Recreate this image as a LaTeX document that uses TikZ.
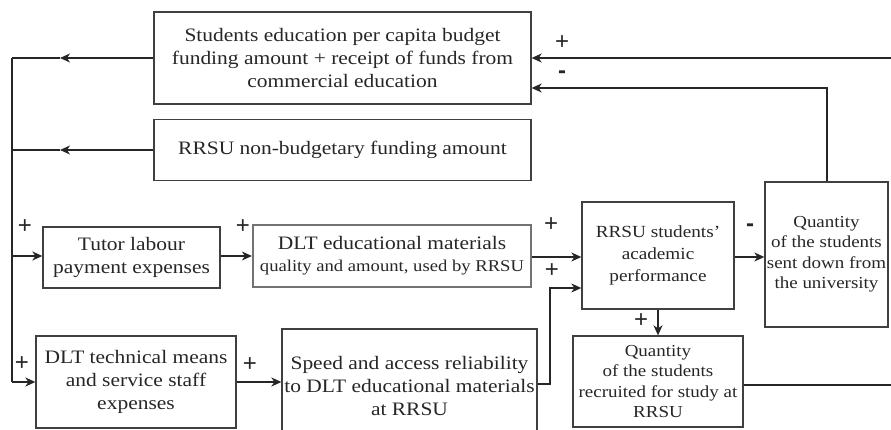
\documentclass[tikz,border=0pt]{standalone}
\usepackage{fontspec}
\setmainfont{Liberation Serif}[FakeStretch=1.13]
\newfontfamily\signfont{Liberation Sans}
\usetikzlibrary{arrows.meta}
\begin{document}
\begin{tikzpicture}[x=1pt,y=-1pt,
  box/.style={draw=black!75, line width=1.3pt, inner sep=0pt, align=center, text=black!85,
              font=\fontsize{19}{23}\selectfont},
  smallbox/.style={box, font=\fontsize{16.8}{20.5}\selectfont},
  conn/.style={line width=1.3pt, draw=black!85},
  arr/.style={conn, -{Stealth[length=10pt,width=9pt,inset=3pt]}},
  sign/.style={text=black!85, inner sep=0pt}]
\useasboundingbox (0,0) rectangle (891,430);

% nodes
\node[box, minimum width=377pt, minimum height=92pt] (A) at (342.5,58)
  {Students education per capita budget\\funding amount + receipt of funds from\\commercial education};
\node[box, minimum width=377pt, minimum height=61pt] (B) at (342.5,150)
  {RRSU non-budgetary funding amount};
\node[box, minimum width=177pt, minimum height=61pt] (tutor) at (131.5,257.5)
  {Tutor labour\\payment expenses};
\node[box, draw=black!55, line width=2.2pt,
      minimum width=278pt, minimum height=62pt, font=\fontsize{19}{22}\selectfont] (edu) at (392,256)
  {DLT educational materials\\\fontsize{16.5}{20}\selectfont quality and amount, used by RRSU};
\node[smallbox, minimum width=152pt, minimum height=107pt, font=\fontsize{17}{22}\selectfont] (perf) at (658,255.5)
  {RRSU students'\\academic\\performance};
\node[smallbox, minimum width=123pt, minimum height=145pt] (sent) at (826.5,254.5)
  {Quantity\\of the students\\sent down from\\the university};
\node[smallbox, minimum width=170pt, minimum height=91pt] (recr) at (658,381.5)
  {Quantity\\of the students\\recruited for study at\\RRSU};
\node[box, minimum width=200pt, minimum height=92pt] (tech) at (136,382)
  {DLT technical means\\and service staff\\expenses};
\node[box, minimum width=255pt, minimum height=114pt] (speed) at (409.5,386)
  {Speed and access reliability\\to DLT educational materials\\at RRSU};

% coordinates
\coordinate (ta) at (12,58);
\coordinate (tb) at (12,150);
\coordinate (ttut) at (12,256);
\coordinate (ttech) at (12,382);
\coordinate (ma) at (60,58);
\coordinate (mb) at (60,150);
\coordinate (rtop) at (891,58);
\coordinate (rbot) at (891,385);
\coordinate (sp1) at (550,384);
\coordinate (sp2) at (550,288);
\coordinate (sd1) at (827,88);

% connectors
\draw[conn] (ta) -- (ttech);
\draw[arr] (A.west |- ta) -- (ma);
\draw[conn] (ma) -- (ta);
\draw[arr] (B.west |- tb) -- (mb);
\draw[conn] (mb) -- (tb);
\draw[arr] (ttut) -- (tutor.west |- ttut);
\draw[arr] (ttech) -- (tech.west |- ttech);
\draw[arr] (tutor.east |- 0,256) -- (edu.west |- 0,256);
\draw[arr] (edu.east |- 0,257) -- (perf.west |- 0,257);
\draw[arr] (tech.east |- ttech) -- (speed.west |- ttech);
\draw[arr] (speed.east |- sp1) -- (sp1) -- (sp2) -- (perf.west |- sp2);
\draw[arr] (perf.east |- 0,257) -- (sent.west |- 0,257);
\draw[arr] (perf.south) -- (recr.north);
\draw[arr] (sent.north -| sd1) -- (sd1) -- (A.east |- sd1);
\draw[arr] (rtop) -- (A.east |- rtop);
\draw[conn] (recr.east |- rbot) -- (rbot);

% signs
\newcommand{\plussign}{{\signfont\fontsize{24}{24}\selectfont +}}
\newcommand{\minussign}{{\signfont\bfseries\fontsize{24}{24}\selectfont -}}
\node[sign] (s1) at (25,227) {\plussign};
\node[sign] (s2) at (22,364) {\plussign};
\node[sign] (s3) at (243,227) {\plussign};
\node[sign] (s4) at (250,365) {\plussign};
\node[sign] (s5) at (551,225) {\plussign};
\node[sign] (s6) at (552,271) {\plussign};
\node[sign] (s7) at (750,228) {\minussign};
\node[sign] (s8) at (641,321) {\plussign};
\node[sign] (s9) at (562,43) {\plussign};
\node[sign] (s10) at (562,75) {\minussign};
\end{tikzpicture}
\end{document}
